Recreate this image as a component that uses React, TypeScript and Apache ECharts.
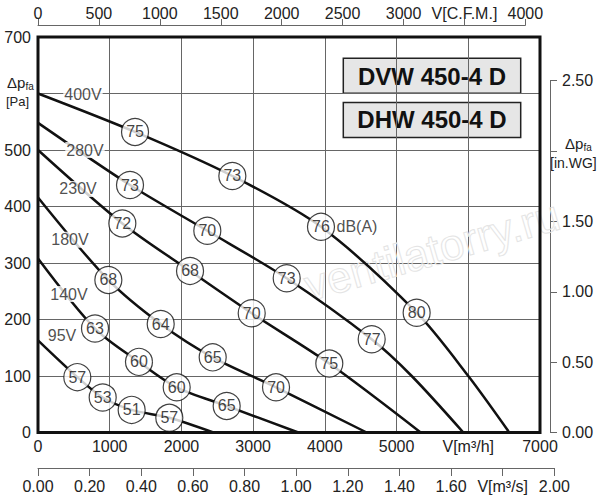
import React, { useEffect, useRef } from "react";
import * as echarts from "echarts";

// ---------- data ----------
// fan curves: [airflow m3/h, static pressure Pa]
const curve400 = [[0, 600], [1353, 532], [2710, 454], [3946, 364], [5280, 212], [6000, 100], [6572, 0]];
const curve280 = [[0, 548], [1283, 438], [2361, 357], [3468, 273], [4653, 165], [5211, 100], [5931, 0]];
const curve230 = [[0, 500], [1176, 370], [2120, 286], [2980, 211], [4062, 122], [5336, 0]];
const curve180 = [[0, 416], [981, 270], [1711, 192], [2436, 133], [3319, 80], [4583, 0]];
const curve140 = [[0, 308], [795, 184], [1408, 125], [1934, 80], [2631, 47], [3630, 0]];
const curve95 = [[0, 163], [548, 98], [902, 62], [1306, 40], [1831, 26], [2445, 0]];

// sound level marks: [airflow, pressure, dB(A)]
const marks400 = [[1353, 532, 75], [2710, 454, 73], [3946, 364, 76], [5280, 212, 80]];
const marks280 = [[1283, 438, 73], [2361, 357, 70], [3468, 273, 73], [4653, 165, 77]];
const marks230 = [[1176, 370, 72], [2120, 286, 68], [2980, 211, 70], [4062, 122, 75]];
const marks180 = [[981, 270, 68], [1711, 192, 64], [2436, 133, 65], [3319, 80, 70]];
const marks140 = [[795, 184, 63], [1408, 125, 60], [1934, 80, 60], [2631, 47, 65]];
const marks95 = [[548, 98, 57], [902, 62, 53], [1306, 40, 51], [1831, 26, 57]];

// voltage labels: [airflow, pressure, text]
const voltLabels: [number, number, string][] = [
  [627, 599, "400V"],
  [655, 500, "280V"],
  [558, 431, "230V"],
  [446, 341, "180V"],
  [432, 245, "140V"],
  [335, 171, "95V"],
];

const unitMark = marks400[2]; // "dB(A)" next to this circle

// tick labels
const xTickLabels = ["0", "1000", "2000", "3000", "4000", "5000", "V[m³/h]", "7000"];
const yTickLabels = ["0", "100", "200", "300", "400", "500", "", "700"];
const cfmTickLabels = ["0", "500", "1000", "1500", "2000", "2500", "3000", "V[C.F.M.]", "4000"];
const m3sTickLabels = ["0.00", "0.20", "0.40", "0.60", "0.80", "1.00", "1.20", "1.40", "1.60", "V[m³/s]", "2.00"];
const inwgTickLabels = ["0.00", "0.50", "1.00", "1.50", "", "2.50"];

const titles = ["DVW 450-4 D", "DHW 450-4 D"];

// unit conversions
const M3H_PER_CFM = 1.69901;
const PA_PER_INWG = 249.089;
const M3H_PER_M3S = 3600;

// ---------- layout ----------
const FONT = "'Liberation Sans', Arial, sans-serif";
const TXT = "#222";
const PL = 38, PT = 37, PW = 502, PH = 395.5;
const XMAX = 7000, YMAX = 700;

const curves = [
  { pts: curve400, marks: marks400 },
  { pts: curve280, marks: marks280 },
  { pts: curve230, marks: marks230 },
  { pts: curve180, marks: marks180 },
  { pts: curve140, marks: marks140 },
  { pts: curve95, marks: marks95 },
];

function buildOption() {
  const cfmW = (PW * 4000 * M3H_PER_CFM) / XMAX;
  const m3sW = (PW * 2 * M3H_PER_M3S) / XMAX;
  const inwgH = (PH * 2.5 * PA_PER_INWG) / YMAX;
  const hidden = { show: false };
  const auxLine = { show: true, onZero: false, lineStyle: { color: "#666", width: 1 } };
  const auxTick = (len: number) => ({ show: true, length: len, lineStyle: { color: "#666", width: 1 } });
  const lbl = { fontSize: 16, color: TXT, fontFamily: FONT };

  const series: any[] = [];
  curves.forEach((c) => {
    series.push({
      type: "line",
      data: c.pts,
      xAxisIndex: 0,
      yAxisIndex: 0,
      showSymbol: false,
      smooth: 0.3,
      lineStyle: { color: "#111", width: 2.5 },
      z: 3,
      silent: true,
    });
  });
  series.push({
    type: "scatter",
    xAxisIndex: 0,
    yAxisIndex: 0,
    data: curves.flatMap((c) => c.marks),
    symbol: "circle",
    symbolSize: 27,
    itemStyle: { color: "#fff", borderColor: "#111", borderWidth: 1.2 },
    label: { show: true, position: "inside", formatter: (p: any) => String(p.value[2]), ...lbl, color: "#111" },
    z: 5,
  });
  series.push({
    type: "scatter",
    xAxisIndex: 0,
    yAxisIndex: 0,
    data: voltLabels.map((v) => ({ value: [v[0], v[1]], name: v[2] })),
    symbolSize: 1,
    itemStyle: { color: "rgba(0,0,0,0)" },
    label: { show: true, position: "inside", formatter: (p: any) => p.name, ...lbl, backgroundColor: "#fff", padding: [0, 1] },
    z: 6,
  });
  series.push({
    type: "scatter",
    xAxisIndex: 0,
    yAxisIndex: 0,
    data: [[unitMark[0], unitMark[1]]],
    symbolSize: 1,
    itemStyle: { color: "rgba(0,0,0,0)" },
    label: { show: true, position: "right", distance: 15, formatter: "dB(A)", ...lbl },
    z: 6,
  });

  const graphic: any[] = [
    {
      type: "text",
      x: 432,
      y: 250,
      rotation: (16 * Math.PI) / 180,
      z: 1,
      silent: true,
      style: { text: "ventilatorry.ru", fontSize: 44, fontFamily: FONT, fill: "rgba(0,0,0,0)", stroke: "#e4e4e4", lineWidth: 1, align: "center", verticalAlign: "middle" },
    },
    ...titles.map((t, i) => ({
      type: "group",
      z: 10,
      children: [
        { type: "rect", shape: { x: 343.3, y: 58.3 + i * 44.3, width: 177.4, height: 35 }, style: { fill: "#e6e6e6", stroke: "#222", lineWidth: 1.5 } },
        { type: "text", x: 432, y: 76 + i * 43.5, style: { text: t, fontSize: 24, fontWeight: "bold", fontFamily: FONT, fill: "#111", align: "center", verticalAlign: "middle" } },
      ],
    })),
    // left axis title
    { type: "text", x: 7, y: 82, style: { text: "Δp", fontSize: 15, fontFamily: FONT, fill: TXT, verticalAlign: "middle" } },
    { type: "text", x: 25.5, y: 86, style: { text: "fa", fontSize: 10, fontFamily: FONT, fill: TXT, verticalAlign: "middle" } },
    { type: "text", x: 6, y: 101.5, style: { text: "[Pa]", fontSize: 13, fontFamily: FONT, fill: TXT, verticalAlign: "middle" } },
    // right axis title
    { type: "text", x: 565, y: 143, style: { text: "Δp", fontSize: 15, fontFamily: FONT, fill: TXT, verticalAlign: "middle" } },
    { type: "text", x: 583.5, y: 147, style: { text: "fa", fontSize: 10, fontFamily: FONT, fill: TXT, verticalAlign: "middle" } },
    { type: "text", x: 550, y: 163, style: { text: "[in.WG]", fontSize: 14, fontFamily: FONT, fill: TXT, verticalAlign: "middle" } },
  ];

  return {
    animation: false,
    backgroundColor: "#fff",
    textStyle: { fontFamily: FONT },
    grid: [
      { left: PL, top: PT, width: PW, height: PH, show: true, borderColor: "#111", borderWidth: 3, backgroundColor: "transparent", z: 4 },
      { left: PL, top: PT, width: cfmW, height: PH },
      { left: PL, top: PT, width: m3sW, height: PH },
      { left: PL, top: PT + PH - inwgH, width: 512, height: inwgH },
    ],
    xAxis: [
      {
        gridIndex: 0, type: "value", min: 0, max: XMAX, interval: 1000, position: "bottom",
        axisLine: hidden, axisTick: hidden,
        axisLabel: { ...lbl, margin: 6, formatter: (v: number) => xTickLabels[Math.round(v / 1000)] },
        splitLine: { show: true, lineStyle: { color: "#666", width: 1 } },
      },
      {
        gridIndex: 1, type: "value", min: 0, max: 4000, interval: 500, position: "top", offset: 12,
        axisLine: auxLine, axisTick: auxTick(6),
        axisLabel: { ...lbl, margin: 4, formatter: (v: number) => cfmTickLabels[Math.round(v / 500)] },
        splitLine: hidden,
      },
      {
        gridIndex: 2, type: "value", min: 0, max: 2, interval: 0.2, position: "bottom", offset: 35.5,
        axisLine: auxLine, axisTick: auxTick(8),
        axisLabel: { ...lbl, margin: 10, formatter: (v: number) => m3sTickLabels[Math.round(v / 0.2)] },
        splitLine: hidden,
      },
      { gridIndex: 3, type: "value", min: 0, max: 1, show: false },
    ],
    yAxis: [
      {
        gridIndex: 0, type: "value", min: 0, max: YMAX, interval: 100,
        axisLine: hidden, axisTick: hidden,
        axisLabel: { ...lbl, margin: 7, formatter: (v: number) => yTickLabels[Math.round(v / 100)] },
        splitLine: { show: true, lineStyle: { color: "#666", width: 1 } },
      },
      { gridIndex: 1, type: "value", min: 0, max: 1, show: false },
      { gridIndex: 2, type: "value", min: 0, max: 1, show: false },
      {
        gridIndex: 3, type: "value", min: 0, max: 2.5, interval: 0.5, position: "right",
        axisLine: auxLine, axisTick: auxTick(7),
        axisLabel: { ...lbl, margin: 12, formatter: (v: number) => inwgTickLabels[Math.round(v / 0.5)] },
        splitLine: hidden,
      },
    ],
    graphic,
    series,
  };
}

export default function App() {
  const ref = useRef<HTMLDivElement>(null);
  useEffect(() => {
    const chart = echarts.init(ref.current as HTMLDivElement, null, { renderer: "svg" });
    chart.setOption(buildOption() as any);
    return () => chart.dispose();
  }, []);
  return <div ref={ref} style={{ position: "absolute", left: 0, top: 0, width: 600, height: 500 }} />;
}
